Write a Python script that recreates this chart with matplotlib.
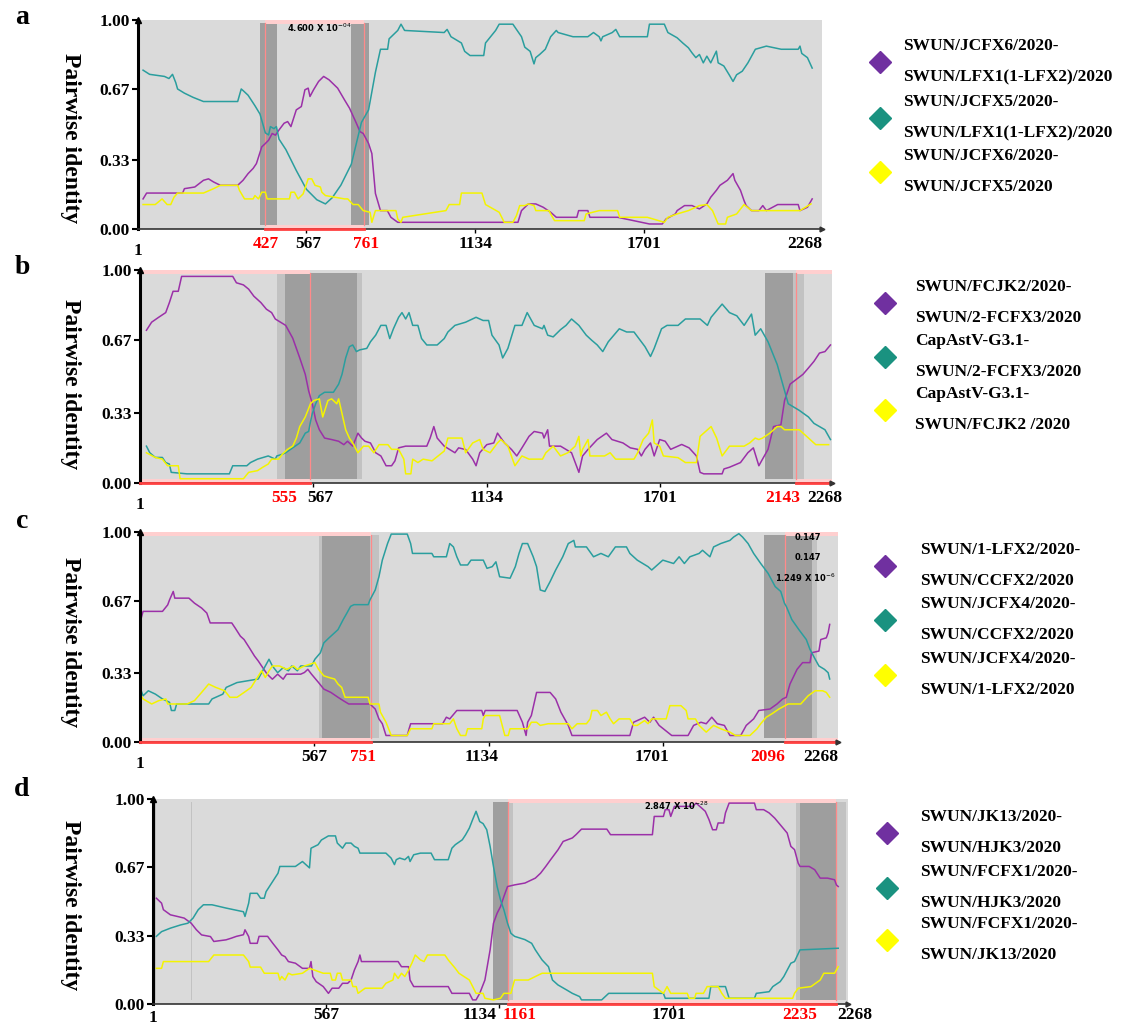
import matplotlib
matplotlib.use("Agg")
import matplotlib.pyplot as plt

plt.rcParams['font.family'] = ['Liberation Serif', 'DejaVu Serif']

# ---------------- panel a ----------------
A_PURPLE_X = [18, 30, 151, 157, 192, 221, 238, 255, 278, 336, 354, 371, 388, 399, 417, 429, 440, 452, 463, 475,
              492, 504, 515, 533, 550, 562, 573, 579, 591, 608, 625, 643, 672, 695, 712, 735, 747, 758, 776, 787,
              799, 816, 839, 851, 874, 1278, 1290, 1313, 1338, 1363, 1388, 1407, 1476, 1482, 1513, 1520, 1613,
              1720, 1763, 1776, 1807, 1813, 1838, 1863, 1888, 1913, 1926, 1945, 1957, 1982, 2001, 2007, 2026,
              2038, 2045, 2063, 2088, 2101, 2113, 2151, 2220, 2226, 2251, 2267]
A_PURPLE_Y = [.144, .172, .172, .193, .201, .233, .24, .225, .209, .209, .233, .265, .29, .313, .393, .409, .425,
              .457, .449, .474, .506, .514, .49, .57, .586, .666, .674, .634, .666, .706, .73, .714, .674, .618,
              .578, .506, .466, .457, .409, .361, .17, .088, .088, .056, .032, .032, .088, .12, .12, .104, .08,
              .056, .056, .088, .088, .056, .056, .024, .024, .048, .072, .088, .112, .112, .096, .12, .152, .185,
              .209, .233, .265, .233, .185, .136, .112, .088, .088, .112, .088, .117, .117, .088, .104, .144]
A_TEAL_X = [18, 40, 90, 105, 117, 128, 134, 157, 186, 221, 336, 348, 356, 371, 394, 411, 429, 440, 446, 458, 466,
            475, 498, 533, 567, 602, 631, 654, 683, 718, 735, 752, 776, 799, 816, 840, 845, 874, 885, 897, 1030,
            1040, 1053, 1088, 1099, 1117, 1163, 1169, 1203, 1215, 1261, 1273, 1290, 1301, 1319, 1332, 1338, 1351,
            1370, 1388, 1407, 1413, 1463, 1513, 1532, 1551, 1557, 1563, 1595, 1607, 1620, 1713, 1720, 1770, 1782,
            1813, 1832, 1851, 1863, 1876, 1888, 1901, 1913, 1926, 1945, 1951, 1970, 1988, 2001, 2013, 2032, 2051,
            2076, 2113, 2163, 2220, 2226, 2232, 2251, 2267]
A_TEAL_Y = [.76, .74, .73, .72, .74, .70, .67, .65, .63, .61, .61, .67, .66, .64, .59, .55, .46, .45, .49, .48,
            .49, .43, .38, .28, .19, .14, .12, .15, .21, .31, .41, .51, .57, .75, .86, .86, .91, .95, .98, .95,
            .94, .955, .92, .89, .85, .83, .83, .89, .95, .98, .98, .955, .92, .87, .85, .79, .82, .835, .86, .92,
            .95, .94, .92, .92, .94, .92, .90, .92, .94, .955, .92, .92, .98, .98, .94, .915, .89, .867, .843,
            .82, .835, .795, .827, .795, .851, .795, .78, .738, .706, .738, .755, .795, .86, .875, .86, .86, .875,
            .84, .82, .77]
A_YELLOW_X = [18, 59, 70, 82, 99, 111, 122, 134, 221, 255, 278, 336, 342, 359, 388, 394, 406, 417, 429, 435, 510,
              515, 527, 539, 556, 573, 585, 596, 614, 619, 631, 695, 706, 724, 741, 758, 781, 787, 799, 851, 868,
              874, 885, 891, 1036, 1047, 1082, 1088, 1157, 1169, 1215, 1232, 1261, 1273, 1284, 1301, 1313, 1332,
              1338, 1382, 1388, 1401, 1501, 1507, 1551, 1613, 1620, 1713, 1770, 1782, 1813, 1851, 1888, 1913, 1932,
              1951, 1976, 1982, 2013, 2038, 2063, 2226, 2263]
A_YELLOW_Y = [.117, .117, .13, .144, .117, .117, .152, .172, .172, .193, .209, .209, .185, .144, .144, .16, .144,
              .176, .176, .144, .144, .176, .176, .144, .168, .24, .24, .209, .201, .176, .16, .144, .144, .117,
              .117, .088, .08, .032, .088, .088, .088, .048, .032, .056, .088, .117, .117, .172, .172, .117, .08,
              .032, .032, .064, .112, .112, .12, .112, .088, .088, .072, .04, .04, .072, .088, .088, .056, .056,
              .032, .056, .072, .088, .112, .117, .088, .024, .024, .056, .072, .117, .088, .088, .12]

# ---------------- panel b ----------------
B_PURPLE_X = [22, 39, 62, 85, 97, 109, 126, 137, 304, 316, 339, 356, 373, 396, 414, 431, 443, 460, 477, 500, 523,
              541, 552, 564, 575, 587, 604, 627, 650, 667, 679, 696, 713, 725, 736, 754, 771, 788, 805, 823, 834,
              846, 869, 938, 949, 961, 972, 995, 1030, 1042, 1065, 1088, 1099, 1111, 1134, 1157, 1169, 1192, 1215,
              1232, 1249, 1272, 1289, 1316, 1321, 1333, 1339, 1375, 1411, 1423, 1435, 1447, 1465, 1495, 1525, 1543,
              1579, 1603, 1627, 1639, 1651, 1669, 1681, 1699, 1717, 1735, 1771, 1795, 1819, 1831, 1843, 1903, 1909,
              1927, 1963, 1987, 2005, 2023, 2035, 2053, 2071, 2095, 2107, 2125, 2167, 2185, 2203, 2221, 2239, 2257]
B_PURPLE_Y = [.717, .755, .778, .80, .847, .90, .90, .97, .97, .94, .93, .91, .877, .847, .816, .80, .77, .755,
              .74, .68, .587, .51, .433, .372, .296, .25, .211, .204, .196, .18, .196, .173, .234, .211, .196, .188,
              .142, .127, .081, .081, .104, .165, .173, .173, .211, .265, .211, .173, .142, .165, .157, .112, .081,
              .142, .18, .188, .234, .188, .157, .127, .165, .219, .242, .234, .211, .25, .173, .173, .142, .096,
              .05, .127, .158, .204, .234, .204, .188, .165, .158, .127, .158, .188, .127, .204, .196, .158, .181,
              .165, .127, .05, .043, .043, .066, .074, .096, .142, .165, .081, .112, .158, .265, .273, .387, .464,
              .51, .54, .571, .61, .617, .648]
B_TEAL_X = [22, 33, 51, 74, 85, 97, 103, 154, 293, 304, 350, 362, 385, 420, 443, 448, 466, 477, 500, 523, 541, 552,
            558, 564, 575, 587, 604, 633, 650, 661, 673, 685, 696, 708, 719, 742, 754, 771, 788, 805, 817, 829, 846,
            857, 869, 880, 892, 909, 921, 938, 972, 995, 1007, 1030, 1065, 1099, 1122, 1140, 1151, 1174, 1186,
            1203, 1226, 1249, 1266, 1289, 1316, 1321, 1333, 1351, 1375, 1393, 1411, 1435, 1459, 1477, 1495, 1513,
            1531, 1567, 1591, 1615, 1651, 1669, 1681, 1705, 1723, 1759, 1783, 1831, 1855, 1867, 1903, 1927, 1951,
            1975, 1999, 2011, 2029, 2053, 2083, 2101, 2119, 2155, 2185, 2203, 2221, 2239, 2257]
B_TEAL_Y = [.173, .142, .12, .12, .096, .089, .05, .043, .043, .081, .081, .096, .112, .127, .112, .127, .135,
            .142, .165, .188, .234, .242, .288, .326, .372, .41, .426, .426, .464, .51, .587, .64, .648, .617, .625,
            .632, .663, .694, .74, .74, .678, .724, .778, .80, .77, .80, .74, .74, .678, .648, .648, .678, .709,
            .74, .755, .778, .763, .763, .694, .648, .587, .632, .74, .74, .80, .74, .724, .74, .694, .686, .72,
            .74, .77, .74, .694, .67, .648, .617, .663, .724, .709, .709, .64, .594, .632, .724, .74, .74, .77, .77,
            .74, .778, .84, .80, .785, .74, .793, .694, .724, .663, .556, .464, .372, .341, .31, .28, .265, .25,
            .204]
B_YELLOW_X = [22, 51, 74, 91, 126, 132, 339, 356, 385, 402, 420, 431, 454, 466, 483, 500, 512, 523, 541, 558, 569,
              587, 598, 615, 627, 644, 650, 661, 673, 685, 696, 713, 731, 748, 765, 782, 811, 823, 846, 863, 869,
              886, 892, 909, 926, 955, 995, 1007, 1053, 1065, 1088, 1111, 1122, 1145, 1169, 1180, 1203, 1226, 1249,
              1272, 1316, 1327, 1351, 1375, 1399, 1423, 1435, 1441, 1447, 1465, 1471, 1519, 1537, 1555, 1615, 1627,
              1645, 1663, 1675, 1681, 1699, 1711, 1759, 1783, 1819, 1831, 1849, 1867, 1885, 1903, 1927, 1975, 1993,
              2011, 2023, 2035, 2059, 2083, 2095, 2107, 2155, 2179, 2209, 2251]
B_YELLOW_Y = [.142, .12, .112, .081, .081, .02, .02, .05, .058, .074, .089, .112, .112, .135, .158, .173, .211,
              .265, .31, .372, .387, .395, .31, .387, .395, .372, .395, .326, .25, .211, .188, .142, .173, .173,
              .142, .18, .18, .158, .158, .112, .043, .043, .112, .096, .112, .104, .15, .211, .211, .142, .188,
              .204, .158, .142, .188, .204, .173, .081, .127, .112, .112, .142, .173, .127, .142, .173, .219, .127,
              .158, .204, .127, .127, .142, .112, .112, .142, .204, .234, .296, .188, .173, .127, .119, .096, .096,
              .219, .242, .265, .211, .127, .173, .173, .188, .211, .204, .211, .234, .265, .265, .25, .25, .219,
              .18, .18]

# ---------------- panel c ----------------
C_PURPLE_X = [5, 11, 74, 91, 97, 109, 114, 160, 178, 201, 218, 229, 299, 310, 327, 339, 356, 373, 385, 396, 414,
              431, 448, 466, 477, 523, 535, 546, 558, 581, 598, 621, 644, 661, 679, 748, 765, 777, 788, 800, 869,
              875, 880, 984, 996, 1007, 1030, 1111, 1116, 1122, 1226, 1243, 1255, 1260, 1272, 1289, 1333, 1351,
              1368, 1392, 1404, 1592, 1604, 1640, 1657, 1669, 1687, 1728, 1781, 1799, 1823, 1840, 1858, 1876, 1899,
              1917, 1952, 1970, 1994, 2011, 2047, 2070, 2088, 2100, 2112, 2135, 2153, 2177, 2182, 2206, 2212, 2230,
              2236, 2241]
C_PURPLE_Y = [.59, .622, .622, .653, .677, .717, .685, .685, .661, .638, .614, .567, .567, .543, .504, .488, .449,
              .409, .386, .362, .323, .299, .323, .299, .323, .323, .331, .346, .323, .283, .252, .236, .213, .197,
              .181, .181, .157, .11, .087, .031, .031, .063, .087, .087, .118, .11, .15, .15, .126, .15, .15, .094,
              .031, .094, .126, .236, .236, .205, .142, .079, .031, .031, .094, .118, .094, .118, .079, .031, .031,
              .079, .094, .087, .118, .087, .079, .031, .031, .079, .11, .15, .157, .181, .205, .213, .276, .346,
              .378, .378, .425, .433, .488, .496, .52, .56]
C_TEAL_X = [5, 11, 28, 51, 74, 97, 103, 114, 120, 224, 235, 270, 281, 316, 385, 396, 420, 431, 448, 466, 483, 494,
            512, 523, 558, 569, 587, 598, 615, 644, 661, 673, 685, 696, 742, 748, 765, 777, 788, 805, 817, 869, 880,
            886, 949, 955, 996, 1007, 1019, 1030, 1042, 1065, 1076, 1116, 1128, 1145, 1157, 1169, 1203, 1220, 1232,
            1243, 1260, 1278, 1289, 1301, 1316, 1333, 1351, 1374, 1392, 1410, 1415, 1451, 1474, 1498, 1522, 1545,
            1581, 1592, 1616, 1651, 1663, 1699, 1734, 1752, 1769, 1787, 1817, 1828, 1852, 1864, 1887, 1917, 1929,
            1946, 1958, 1976, 1994, 2017, 2041, 2064, 2082, 2094, 2100, 2118, 2141, 2165, 2177, 2194, 2206, 2224,
            2236, 2241]
C_TEAL_Y = [.244, .22, .244, .228, .205, .189, .15, .15, .181, .181, .205, .228, .26, .283, .3, .33, .394, .362,
            .33, .354, .339, .362, .339, .362, .362, .394, .425, .472, .496, .535, .583, .614, .646, .654, .654,
            .677, .724, .787, .866, .945, .99, .99, .945, .898, .898, .882, .882, .945, .929, .882, .843, .843,
            .866, .866, .827, .835, .858, .787, .78, .835, .898, .945, .945, .882, .835, .724, .717, .764, .819,
            .882, .945, .96, .929, .929, .882, .898, .882, .929, .929, .898, .866, .835, .819, .866, .85, .882,
            .85, .882, .898, .913, .882, .929, .945, .96, .976, .992, .976, .945, .898, .85, .803, .74, .717, .661,
            .646, .583, .535, .488, .441, .394, .362, .346, .33, .30]
C_YELLOW_X = [5, 11, 39, 62, 85, 91, 154, 178, 201, 224, 247, 276, 293, 316, 339, 362, 379, 396, 408, 420, 431,
              454, 477, 500, 512, 535, 569, 581, 598, 615, 633, 644, 656, 667, 742, 748, 777, 782, 800, 817, 869,
              880, 949, 955, 1007, 1019, 1030, 1042, 1059, 1065, 1111, 1116, 1122, 1169, 1186, 1197, 1203, 1260,
              1272, 1289, 1301, 1327, 1392, 1404, 1421, 1451, 1463, 1469, 1487, 1498, 1516, 1528, 1539, 1557, 1592,
              1604, 1616, 1640, 1651, 1663, 1710, 1722, 1758, 1775, 1781, 1805, 1817, 1840, 1852, 1864, 1887, 1917,
              1935, 1982, 2005, 2017, 2035, 2053, 2076, 2106, 2147, 2171, 2194, 2218, 2230, 2241]
C_YELLOW_Y = [.22, .205, .181, .197, .205, .181, .181, .197, .236, .276, .26, .244, .213, .213, .236, .26, .3,
              .339, .307, .339, .362, .362, .346, .362, .346, .362, .378, .346, .315, .307, .3, .276, .26, .213,
              .213, .181, .181, .142, .094, .031, .031, .063, .063, .087, .087, .11, .063, .031, .031, .063, .063,
              .11, .126, .126, .031, .031, .063, .063, .094, .094, .079, .087, .087, .063, .087, .087, .11, .15,
              .15, .126, .142, .11, .087, .11, .11, .079, .079, .102, .087, .11, .11, .173, .173, .15, .11, .11,
              .079, .047, .063, .079, .063, .047, .031, .031, .063, .087, .118, .134, .157, .181, .181, .22, .244,
              .244, .236, .213]

# ---------------- panel d ----------------
D_PURPLE_X = [12, 29, 35, 58, 81, 103, 126, 143, 160, 189, 200, 240, 257, 274, 297, 302, 314, 319, 342, 348, 376,
              393, 410, 422, 433, 444, 467, 490, 513, 518, 524, 535, 558, 575, 587, 609, 621, 638, 649, 660, 672,
              678, 683, 803, 814, 837, 842, 854, 967, 979, 1036, 1047, 1058, 1070, 1087, 1104, 1115, 1127, 1138,
              1149, 1161, 1184, 1218, 1252, 1269, 1286, 1302, 1326, 1343, 1373, 1385, 1403, 1486, 1498, 1635, 1641,
              1671, 1677, 1689, 1695, 1707, 1767, 1778, 1790, 1808, 1820, 1832, 1844, 1850, 1868, 1874, 1886, 1969,
              1975, 1999, 2017, 2035, 2053, 2076, 2088, 2100, 2112, 2118, 2148, 2166, 2184, 2208, 2231, 2237, 2243]
D_PURPLE_Y = [.516, .492, .46, .435, .427, .419, .394, .362, .337, .329, .305, .313, .321, .33, .338, .362, .329,
              .296, .296, .33, .33, .296, .264, .239, .231, .207, .199, .174, .174, .207, .134, .109, .085, .052,
              .077, .077, .101, .101, .117, .166, .207, .239, .207, .207, .182, .182, .117, .085, .085, .052, .052,
              .02, .02, .052, .117, .264, .394, .443, .475, .524, .573, .581, .59, .614, .638, .671, .704, .752,
              .793, .81, .826, .853, .853, .826, .826, .915, .915, .948, .948, .915, .964, .964, .98, .964, .94, .90,
              .85, .85, .883, .883, .932, .98, .98, .948, .948, .932, .907, .875, .834, .769, .753, .687, .671, .671,
              .655, .614, .614, .606, .581, .573]
D_TEAL_X = [12, 29, 58, 92, 115, 132, 149, 166, 194, 240, 297, 302, 314, 319, 342, 353, 365, 371, 410, 416, 467,
            490, 513, 518, 541, 552, 575, 598, 604, 621, 632, 649, 660, 672, 678, 763, 780, 791, 797, 808, 825, 837,
            842, 854, 876, 911, 922, 967, 979, 990, 1013, 1024, 1036, 1047, 1058, 1070, 1081, 1093, 1104, 1115,
            1127, 1138, 1149, 1161, 1172, 1184, 1218, 1240, 1252, 1274, 1295, 1308, 1326, 1355, 1373, 1397, 1403,
            1469, 1492, 1671, 1677, 1820, 1826, 1874, 1886, 1969, 1975, 2017, 2029, 2053, 2065, 2088, 2100, 2118,
            2243]
D_TEAL_Y = [.33, .353, .37, .386, .394, .419, .46, .484, .484, .468, .45, .427, .492, .54, .54, .516, .516, .548,
            .638, .671, .671, .695, .664, .76, .777, .80, .82, .82, .785, .76, .785, .785, .769, .76, .736, .736,
            .712, .68, .704, .712, .704, .72, .695, .728, .736, .736, .704, .704, .76, .777, .801, .826, .858, .90,
            .94, .89, .88, .85, .769, .671, .573, .508, .46, .394, .345, .33, .314, .296, .264, .215, .182, .117,
            .093, .068, .052, .036, .02, .02, .052, .052, .028, .028, .085, .085, .028, .028, .052, .06, .085, .109,
            .134, .199, .207, .264, .272]
D_YELLOW_X = [12, 29, 35, 183, 200, 297, 314, 319, 353, 365, 410, 416, 422, 433, 444, 456, 490, 513, 558, 581,
              587, 598, 604, 615, 621, 649, 655, 666, 672, 695, 751, 763, 786, 791, 803, 814, 825, 837, 848, 859,
              876, 888, 899, 956, 967, 990, 1002, 1036, 1047, 1058, 1081, 1087, 1115, 1138, 1149, 1172, 1178, 1184,
              1229, 1252, 1274, 1635, 1641, 1671, 1683, 1695, 1749, 1755, 1773, 1778, 1802, 1814, 1850, 1862, 1874,
              2094, 2100, 2112, 2154, 2184, 2196, 2231, 2243]
D_YELLOW_Y = [.174, .174, .207, .207, .239, .239, .207, .18, .18, .15, .15, .117, .134, .117, .15, .142, .15, .174,
              .15, .15, .117, .117, .15, .15, .117, .117, .085, .085, .052, .077, .077, .101, .117, .15, .125, .15,
              .134, .166, .199, .239, .215, .207, .239, .239, .215, .174, .15, .117, .085, .052, .052, .028, .02,
              .028, .052, .052, .085, .117, .117, .134, .15, .15, .085, .052, .085, .052, .052, .028, .028, .052,
              .052, .085, .085, .052, .028, .028, .052, .077, .085, .117, .15, .15, .182]

# recombination signals: breakpoints, dark/light shaded regions, highlighted spans
A_BREAKS, A_DARK, A_LIGHT, A_SPANS = [427, 761], [(411, 469), (718, 776)], [], [(427, 761)]
B_BREAKS, B_DARK, B_LIGHT, B_SPANS = [555, 2143], [(475, 710), (2042, 2136)], [(448, 725), (2136, 2172)], [(1, 555), (2143, 2262)]
C_BREAKS, C_DARK, C_LIGHT, C_SPANS = [751, 2096], [(592, 748), (2029, 2182)], [(581, 777), (2182, 2200)], [(1, 751), (2096, 2268)]
D_BREAKS, D_DARK, D_LIGHT, D_SPANS = [1161, 2235], [(1115, 1161), (2118, 2235)], [(1, 12), (124, 130), (1161, 1178), (2106, 2118), (2235, 2270)], [(1161, 2235)]

X_TICKS = [1, 567, 1134, 1701, 2268]

A_LEGEND = [("SWUN/JCFX6/2020-", "SWUN/LFX1(1-LFX2)/2020"), ("SWUN/JCFX5/2020-", "SWUN/LFX1(1-LFX2)/2020"),
            ("SWUN/JCFX6/2020-", "SWUN/JCFX5/2020")]
B_LEGEND = [("SWUN/FCJK2/2020-", "SWUN/2-FCFX3/2020"), ("CapAstV-G3.1-", "SWUN/2-FCFX3/2020"),
            ("CapAstV-G3.1-", "SWUN/FCJK2 /2020")]
C_LEGEND = [("SWUN/1-LFX2/2020-", "SWUN/CCFX2/2020"), ("SWUN/JCFX4/2020-", "SWUN/CCFX2/2020"),
            ("SWUN/JCFX4/2020-", "SWUN/1-LFX2/2020")]
D_LEGEND = [("SWUN/JK13/2020-", "SWUN/HJK3/2020"), ("SWUN/FCFX1/2020-", "SWUN/HJK3/2020"),
            ("SWUN/FCFX1/2020-", "SWUN/JK13/2020")]

LINE_COLORS = ['#9b30a8', '#2a9e9e', '#f4f400']
MARK_COLORS = ['#7030a0', '#1a9280', '#ffff00']

W, H = 1125, 1025
fig = plt.figure(figsize=(W / 100, H / 100), dpi=100)
over = fig.add_axes([0, 0, 1, 1])
over.set_xlim(0, W)
over.set_ylim(H, 0)
over.axis('off')

panels = [
    dict(letter='a', box=(138, 822, 20, 229), xmax=2300, lety=18, ylab=138, off=(-11, -16),
         series=[(A_PURPLE_X, A_PURPLE_Y), (A_TEAL_X, A_TEAL_Y), (A_YELLOW_X, A_YELLOW_Y)],
         breaks=A_BREAKS, dark=A_DARK, light=A_LIGHT, spans=A_SPANS, legend=A_LEGEND,
         labx={1: 1, 567: 573, 1134: 1134, 1701: 1701, 2268: 2241, 427: 429, 761: 767},
         leg=(880, 903, [62, 118, 172])),
    dict(letter='b', box=(140, 832, 270, 483), xmax=2262, lety=267, ylab=384, off=(-11, -16),
         series=[(B_PURPLE_X, B_PURPLE_Y), (B_TEAL_X, B_TEAL_Y), (B_YELLOW_X, B_YELLOW_Y)],
         breaks=B_BREAKS, dark=B_DARK, light=B_LIGHT, spans=B_SPANS, legend=B_LEGEND,
         labx={1: 1, 567: 590, 1134: 1134, 1701: 1701, 2268: 2239, 555: 471, 2143: 2101},
         leg=(885, 915, [303, 357, 410])),
    dict(letter='c', box=(140, 838, 532, 742), xmax=2268, lety=522, ylab=642, off=(-11, -16),
         series=[(C_PURPLE_X, C_PURPLE_Y), (C_TEAL_X, C_TEAL_Y), (C_YELLOW_X, C_YELLOW_Y)],
         breaks=C_BREAKS, dark=C_DARK, light=C_LIGHT, spans=C_SPANS, legend=C_LEGEND,
         labx={1: 1, 567: 567, 1134: 1111, 1701: 1663, 2268: 2212, 751: 725, 2096: 2041},
         leg=(885, 920, [566, 620, 675])),
    dict(letter='d', box=(153, 848, 799, 1004), xmax=2275, lety=790, ylab=905, off=(-8, -10),
         series=[(D_PURPLE_X, D_PURPLE_Y), (D_TEAL_X, D_TEAL_Y), (D_YELLOW_X, D_YELLOW_Y)],
         breaks=D_BREAKS, dark=D_DARK, light=D_LIGHT, spans=D_SPANS, legend=D_LEGEND,
         labx={1: 1, 567: 567, 1134: 1070, 1701: 1689, 2268: 2297, 1161: 1200, 2235: 2118},
         leg=(887, 920, [833, 888, 940])),
]

for p in panels:
    l, r, t, b = p['box']
    ax = fig.add_axes([l / W, 1 - b / H, (r - l) / W, (b - t) / H])
    ax.set_xlim(1, p['xmax'])
    ax.set_ylim(0, 1)
    ax.set_facecolor('#dadada')
    for s in ['top', 'right']:
        ax.spines[s].set_visible(False)
    ax.spines['left'].set_linewidth(2.2)
    ax.spines['left'].set_color('black')
    ax.spines['bottom'].set_linewidth(1.2)
    ax.spines['bottom'].set_color('#333333')

    for x0, x1 in p['light']:
        ax.axvspan(x0, x1, ymin=0.02, ymax=0.985, color='#c2c2c2', lw=0, zorder=0.5)
    for x0, x1 in p['dark']:
        ax.axvspan(x0, x1, ymin=0.02, ymax=0.985, color='#9e9e9e', lw=0, zorder=0.6)
    for x0, x1 in p['spans']:
        ax.axvspan(x0, x1, ymin=0.982, ymax=1.0, color='#ffcfcf', lw=0, zorder=0.7)
        ax.axvspan(x0, x1, ymin=0.0, ymax=0.02, color='#ffcfcf', lw=0, zorder=0.7)
        ax.plot([x0, x1], [0, 0], color='#ff4040', lw=2, zorder=3, clip_on=False)
    for xb in p['breaks']:
        ax.axvline(xb, ymin=0.02, ymax=0.985, color='#ff8a8a', lw=0.9, zorder=0.8)

    for (xs, ys), c in zip(p['series'], LINE_COLORS):
        ax.plot(xs, ys, color=c, lw=1.1, zorder=2)

    ax.set_yticks([0, 0.33, 0.67, 1.0])
    ax.set_yticklabels(['0.00', '0.33', '0.67', '1.00'], fontsize=12.5, fontweight='bold')
    ax.set_xticks(X_TICKS[1:-1])
    ax.set_xticklabels([])
    ax.tick_params(axis='y', length=4, width=1.5, direction='out', pad=2)
    ax.tick_params(axis='x', length=3, width=1, direction='out')

    # axis arrow heads
    ax.plot([0], [1.0], marker='^', ms=5, color='black', transform=ax.transAxes, clip_on=False, zorder=5)
    ax.plot([1.0], [0], marker='>', ms=3.5, color='#333333', transform=ax.transAxes, clip_on=False, zorder=5)

    # x labels
    off_main, off_one = p['off']
    for v, xpos in p['labx'].items():
        red = v in p['breaks']
        dy = off_one if v == 1 else off_main
        ax.annotate(str(v), xy=(xpos, 0), xycoords=('data', 'axes fraction'), xytext=(0, dy),
                    textcoords='offset points', ha='center', va='center', fontsize=12.5, fontweight='bold',
                    color='#ff0000' if red else 'black', annotation_clip=False)

    over.text(22, p['lety'], p['letter'], fontsize=20, fontweight='bold', ha='center', va='center')
    over.text(70, p['ylab'], 'Pairwise identity', fontsize=17, fontweight='bold', rotation=270,
              ha='center', va='center')

    mx, tx, ys = p['leg']
    for (l1, l2), mc, yy in zip(p['legend'], MARK_COLORS, ys):
        over.plot([mx], [yy], marker='D', ms=11, color=mc, linestyle='none')
        over.text(tx, yy - 16, l1, fontsize=12.5, fontweight='bold', va='center', ha='left')
        over.text(tx, yy + 15, l2, fontsize=12.5, fontweight='bold', va='center', ha='left')

    if p['letter'] == 'a':
        ax.text(610, 0.965, '4.600 X 10$^{-04}$', fontsize=6, fontweight='bold', family='DejaVu Sans',
                ha='center', va='center', zorder=4)
    if p['letter'] == 'c':
        ax.text(2170, 0.975, '0.147', fontsize=6, fontweight='bold', family='DejaVu Sans', ha='center',
                va='center', zorder=4)
        ax.text(2170, 0.88, '0.147', fontsize=6, fontweight='bold', family='DejaVu Sans', ha='center',
                va='center', zorder=4)
        ax.text(2160, 0.78, '1.249 X 10$^{-6}$', fontsize=6, fontweight='bold', family='DejaVu Sans',
                ha='center', va='center', zorder=4)
    if p['letter'] == 'd':
        ax.text(1713, 0.965, '2.847 X 10$^{-28}$', fontsize=6, fontweight='bold', family='DejaVu Sans',
                ha='center', va='center', zorder=4)

fig.savefig('out.png', dpi=100)
